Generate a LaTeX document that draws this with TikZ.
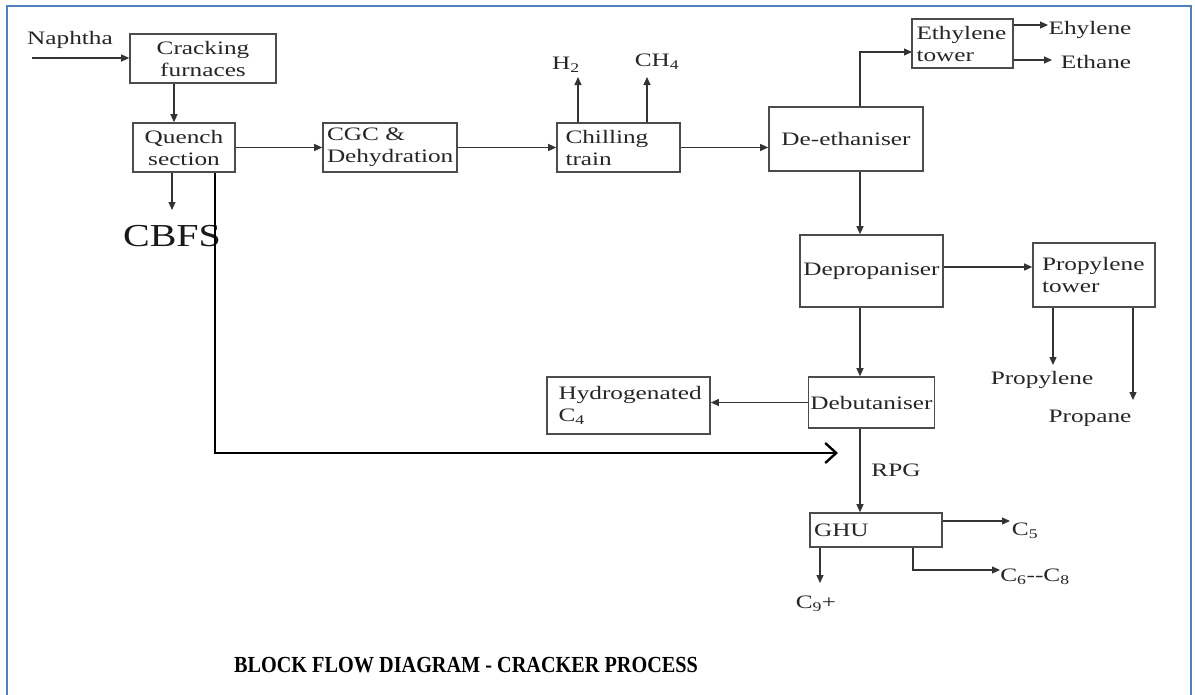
\documentclass[tikz,border=0pt]{standalone}
\usepackage{fontspec}
\setmainfont{Liberation Serif}
\newfontfamily\widefont{Liberation Serif}[FakeStretch=1.33]
\newfontfamily\cbfsfont{Liberation Serif}[FakeStretch=1.25]
\usetikzlibrary{arrows.meta}
\definecolor{frameblue}{RGB}{79,129,189}
\tikzset{
  unitbox/.style={draw=black!70, line width=1.6pt, inner sep=2pt,
    font=\widefont\fontsize{19}{22}\selectfont, text=black!85},
  lbl/.style={inner sep=0pt, font=\widefont\fontsize{19}{22}\selectfont, text=black!85},
  arr/.style={draw=black!80, line width=1.2pt, -{Triangle[length=8pt,width=7pt]}},
  recyc/.style={draw=black, line width=2.4pt, -{Straight Barb[length=11pt,width=20pt,line width=2.4pt]}}
}
\begin{document}
\begin{tikzpicture}[x=1pt,y=-1pt]
\useasboundingbox (0,0) rectangle (1195,694);
\fill[white] (0,0) rectangle (1195,694);
\draw[frameblue, line width=2pt] (7,700) -- (7,6) -- (1191,6) -- (1191,700);

% boxes
\node[unitbox, minimum width=146pt, minimum height=49pt, align=center] (crack) at (203,58.5) {Cracking\\furnaces};
\node[unitbox, minimum width=102pt, minimum height=49pt, align=center] (quench) at (184,147.5) {Quench\\section};
\node[unitbox, minimum width=134pt, minimum height=49pt, align=left, text width=126pt] (cgc) at (390,147.5) {CGC \&\\Dehydration};
\node[unitbox, minimum width=123pt, minimum height=49pt, align=left, text width=106pt] (chill) at (618.5,147.5) {Chilling\\train};
\node[unitbox, minimum width=154pt, minimum height=64pt] (deeth) at (846,139) {De-ethaniser};
\node[unitbox, minimum width=101pt, minimum height=49pt, align=left, text width=92pt] (ethy) at (962.5,43.5) {Ethylene\\tower};
\node[unitbox, minimum width=143pt, minimum height=72pt] (deprop) at (871.5,271) {Depropaniser};
\node[unitbox, minimum width=122pt, minimum height=64pt, align=left, text width=104pt] (propt) at (1094,275) {Propylene\\tower};
\node[unitbox, minimum width=123pt, minimum height=51pt] (debut) at (871.5,402.5) {Debutaniser};
\node[unitbox, minimum width=163pt, minimum height=57pt, align=left, text width=140pt] (hydro) at (628.5,405.5) {Hydrogenated\\C\textsubscript{4}};
\node[unitbox, minimum width=132pt, minimum height=34pt, align=left, text width=124pt] (ghu) at (876,530) {GHU};

% labels
\node[lbl] (naph) at (70,40) {Naphtha};
\node[inner sep=0pt, font=\cbfsfont\fontsize{32}{36}\selectfont, text=black!90] (cbfs) at (172,236) {CBFS};
\node[lbl] (h2) at (566,65) {H\textsubscript{2}};
\node[lbl] (ch4) at (657,62) {CH\textsubscript{4}};
\node[lbl] (ehy) at (1090,30) {Ehylene};
\node[lbl] (ethane) at (1096,62) {Ethane};
\node[lbl] (propy) at (1042,380) {Propylene};
\node[lbl] (propa) at (1090,418) {Propane};
\node[lbl] (rpg) at (896,470) {RPG};
\node[lbl] (c5) at (1025,531) {C\textsubscript{5}};
\node[lbl] (c68) at (1035,577) {C\textsubscript{6}--C\textsubscript{8}};
\node[lbl] (c9) at (816,604) {C\textsubscript{9}+};
\node[inner sep=0pt, xscale=0.88, transform shape, font=\bfseries\fontsize{23}{26}\selectfont] (title) at (466,665) {BLOCK FLOW DIAGRAM - CRACKER PROCESS};

% coordinates
\coordinate (nin) at (32,58);
\coordinate (v) at (860,0);
\coordinate (cb) at (172,210);
\coordinate (h2a) at (578,77);
\coordinate (ch4a) at (647,77);
\coordinate (ej) at (912,52);
\coordinate (eo1) at (1048,25);
\coordinate (eo2) at (1052,60);
\coordinate (pa1) at (1053,365);
\coordinate (pa2) at (1133,400);
\coordinate (rx) at (215,453);
\coordinate (rc) at (838,453);
\coordinate (g1) at (1010,521);
\coordinate (g2x) at (913,570);
\coordinate (g2) at (1000,570);
\coordinate (g3) at (820,583);

% connectors
\draw[arr] (nin) -- (crack.west |- nin);
\draw[arr] (crack.south -| 174,0) -- (quench.north -| 174,0);
\draw[arr] (quench.south -| cb) -- (cb);
\draw[arr] (quench.east) -- (cgc.west);
\draw[arr] (cgc.east) -- (chill.west);
\draw[arr] (chill.north -| h2a) -- (h2a);
\draw[arr] (chill.north -| ch4a) -- (ch4a);
\draw[arr] (chill.east) -- (deeth.west |- chill.east);
\draw[arr] (v |- deeth.north) |- (ej);
\draw[arr] (ethy.east |- eo1) -- (eo1);
\draw[arr] (ethy.east |- eo2) -- (eo2);
\draw[arr] (v |- deeth.south) -- (v |- deprop.north);
\draw[arr] (deprop.east |- 0,267) -- (propt.west |- 0,267);
\draw[arr] (propt.south -| pa1) -- (pa1);
\draw[arr] (propt.south -| pa2) -- (pa2);
\draw[arr] (v |- deprop.south) -- (v |- debut.north);
\draw[arr] (debut.west) -- (debut.west -| hydro.east);
\draw[arr] (v |- debut.south) -- (v |- ghu.north);
\draw[arr] (ghu.east |- g1) -- (g1);
\draw[arr] (ghu.south -| g2x) |- (g2);
\draw[arr] (ghu.south -| g3) -- (g3);
\draw[recyc] (quench.south -| rx) -- (rx) -- (rc);
\end{tikzpicture}
\end{document}
